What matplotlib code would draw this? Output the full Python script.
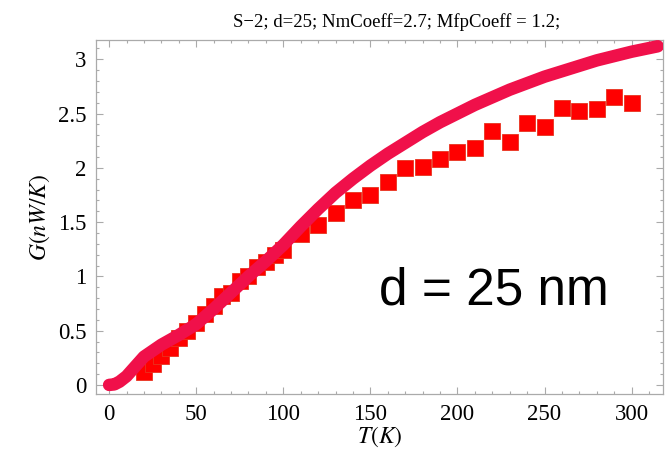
import matplotlib
matplotlib.use('Agg')
import matplotlib.pyplot as plt
from matplotlib.ticker import MultipleLocator

# Model curve G(T)
T_model = [0, 3, 6, 10, 15, 20, 30, 40, 50, 60, 70, 80, 90, 100, 110, 120, 130,
           140, 150, 160, 170, 180, 190, 200, 210, 220, 230, 240, 250, 260, 270,
           280, 290, 300, 315]
G_model = [0.0, 0.005, 0.03, 0.08, 0.17, 0.26, 0.37, 0.46, 0.56, 0.70, 0.85, 1.00,
           1.14, 1.29, 1.46, 1.62, 1.77, 1.90, 2.02, 2.13, 2.23, 2.33, 2.42, 2.50,
           2.58, 2.65, 2.72, 2.78, 2.84, 2.89, 2.94, 2.99, 3.03, 3.07, 3.12]

# Measured conductance
T_meas = [20, 25, 30, 35, 40, 45, 50, 55, 60, 65, 70, 75, 80, 85, 90, 95, 100,
          110, 120, 130, 140, 150, 160, 170, 180, 190, 200, 210, 220, 230, 240,
          250, 260, 270, 280, 290, 300]
G_meas = [0.12, 0.19, 0.27, 0.34, 0.43, 0.50, 0.57, 0.65, 0.73, 0.82, 0.85, 0.96,
          1.00, 1.09, 1.13, 1.20, 1.24, 1.39, 1.47, 1.58, 1.70, 1.75, 1.87, 2.00,
          2.01, 2.08, 2.15, 2.18, 2.34, 2.24, 2.41, 2.38, 2.55, 2.52, 2.54, 2.65,
          2.60]

plt.rcParams['mathtext.fontset'] = 'stix'
serif = 'Liberation Serif'

fig = plt.figure(figsize=(6.67, 4.57), dpi=100)
ax = fig.add_axes([0.144, 0.138, 0.850, 0.775])

ax.plot(T_meas, G_meas, 's', color='#ff0000', markersize=11,
        markeredgecolor='#e8331f', markeredgewidth=0.6, zorder=2)
ax.plot(T_model, G_model, '-', color='#f0104a', linewidth=9,
        solid_capstyle='round', solid_joinstyle='round', zorder=3)

ax.set_xlim(-7.5, 318)
ax.set_ylim(-0.083, 3.18)

ax.xaxis.set_major_locator(MultipleLocator(50))
ax.xaxis.set_minor_locator(MultipleLocator(10))
ax.yaxis.set_major_locator(MultipleLocator(0.5))
ax.yaxis.set_minor_locator(MultipleLocator(0.1))
ax.xaxis.set_major_formatter(plt.FuncFormatter(lambda v, p: f'{v:g}'))
ax.yaxis.set_major_formatter(plt.FuncFormatter(lambda v, p: f'{v:g}'))

ax.tick_params(which='both', direction='in', top=True, right=True,
               color='#aaaaaa', width=0.8)
ax.tick_params(which='major', length=5, labelsize=16.5, pad=7)
ax.tick_params(which='minor', length=2.5)
for lbl in ax.get_xticklabels() + ax.get_yticklabels():
    lbl.set_family(serif)
for sp in ax.spines.values():
    sp.set_color('#aaaaaa')
    sp.set_linewidth(0.9)

ax.set_xlabel(r'$T(K)$', fontsize=17, labelpad=0)
ax.set_ylabel(r'$G(nW/K)$', fontsize=17, labelpad=4)
ax.set_title('S\u22122; d=25; NmCoeff=2.7; MfpCoeff = 1.2;',
             fontsize=13.5, family=serif, x=0.53, pad=9)

ax.text(155, 0.74, 'd = 25 nm', fontsize=37, family='Liberation Sans',
        color='black')

fig.savefig('out.png', dpi=100)
